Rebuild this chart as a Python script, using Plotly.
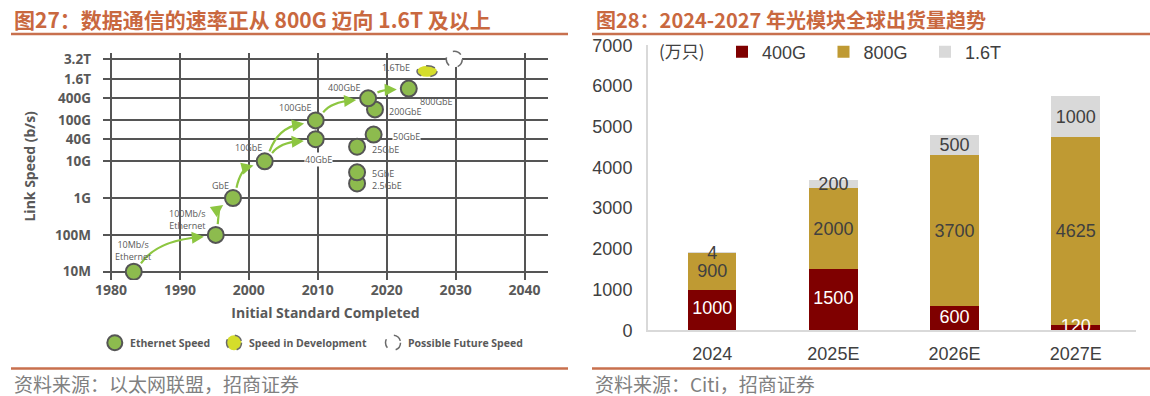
import numpy as np
import plotly.graph_objects as go

# The page body margin is removed (post_script below), so the figure fills
# the 1150x396 window exactly.
OFF = 0
W, H = 1150, 396

# ---------------- Left panel data (Ethernet speeds) ----------------
tick_labels = ["10M", "100M", "1G", "10G", "40G", "100G", "400G", "1.6T", "3.2T"]
tick_speeds = [0.01, 0.1, 1, 10, 40, 100, 400, 1600, 3200]  # Gb/s
year_ticks = [1980, 1990, 2000, 2010, 2020, 2030, 2040]

eth_names = ["10Mb/s<br>Ethernet", "100Mb/s<br>Ethernet", "GbE", "10GbE", "40GbE", "100GbE",
             "2.5GbE", "5GbE", "25GbE", "50GbE", "200GbE", "400GbE", "800GbE"]
eth_years = [1983.3, 1995.2, 1997.7, 2002.3, 2009.7, 2009.7,
             2015.7, 2015.7, 2015.7, 2018.1, 2018.3, 2017.3, 2023.2]
eth_speeds = [0.01, 0.1, 1, 10, 40, 100, 2.5, 5, 25, 50, 200, 400, 800]

dev_names = ["1.6TbE"]
dev_years = [2025.85]
dev_speeds = [1600]

future_years = [2029.8]
future_speeds = [3200]

arrow_pairs = [(0, 1), (1, 2), (2, 3), (3, 5), (3, 4), (5, 11), (11, 12)]

# ---------------- Right panel data (shipments, 万只) ----------------
categories = ["2024", "2025E", "2026E", "2027E"]
ship_400g = [1000, 1500, 600, 120]
ship_800g = [900, 2000, 3700, 4625]
ship_16t = [4, 200, 500, 1000]

# ---------------- Styling / geometry ----------------
TITLE_C = "#C9683F"
RULE_C = "#C8704E"
GRID_C = "#555555"
TXT_L = "#595959"
TXT_R = "#404040"
GREEN = "#8DBB4E"
ARROW_G = "#8DC641"
YELLOW = "#D5DD2B"
C400, C800, C16 = "#7F0000", "#BF9A33", "#D9D9D9"

# the speed axis is a log-like layout: position of each tick on the axis
tick_pos = [0, 1, 2, 3, 3.6, 4.11, 4.71, 5.24, 5.77]


def spos(s):
    return float(np.interp(np.log10(s), np.log10(tick_speeds), tick_pos))


# window-pixel geometry of the left plot area
XPX = (103.0, 548.0)
YPX = (280.0, 52.7)
XR = [1978.84, 2043.4]
YR = [-0.226, 5.95]


def to_px(x, y):
    px = XPX[0] + (x - XR[0]) / (XR[1] - XR[0]) * (XPX[1] - XPX[0])
    py = YPX[0] + (y - YR[0]) / (YR[1] - YR[0]) * (YPX[1] - YPX[0])
    return np.array([px, py])


def to_data(p):
    x = XR[0] + (p[0] - XPX[0]) / (XPX[1] - XPX[0]) * (XR[1] - XR[0])
    y = YR[0] + (p[1] - YPX[0]) / (YPX[1] - YPX[0]) * (YR[1] - YR[0])
    return x, y


def px_x(p):  # window px -> paper fraction
    return (p - OFF) / W


def px_y(p):
    return 1 - (p - OFF) / H


label_offsets = {
    "10Mb/s<br>Ethernet": (-1, -21),
    "100Mb/s<br>Ethernet": (-28.5, -15.7),
    "GbE": (-13, -13),
    "10GbE": (-16, -14),
    "100GbE": (-20, -12.6),
    "40GbE": (3, 20),
    "400GbE": (-24, -10.4),
    "200GbE": (31, 1.7),
    "50GbE": (33, 2),
    "25GbE": (28, 3),
    "5GbE": (26, 1),
    "2.5GbE": (30, 2),
    "800GbE": (28, 13),
}
label_bg = {"40GbE", "50GbE"}

fig = go.Figure()

# Ethernet speed markers
fig.add_trace(go.Scatter(
    x=eth_years, y=[spos(s) for s in eth_speeds], mode="markers",
    marker=dict(size=16, color=GREEN, line=dict(color=GRID_C, width=2)),
    xaxis="x", yaxis="y", showlegend=False, hoverinfo="skip"))

shapes = []
annotations = []

# point labels
for n, yr, sp in zip(eth_names, eth_years, eth_speeds):
    dx, dy = label_offsets[n]
    annotations.append(dict(
        x=yr, y=spos(sp), xref="x", yref="y", text=n, showarrow=False,
        xshift=dx, yshift=-dy, font=dict(family="Open Sans", size=9, color=TXT_L),
        bgcolor="white" if n in label_bg else None, borderpad=0, align="center"))

# curved arrows between generations
for i, j in arrow_pairs:
    p1 = to_px(eth_years[i], spos(eth_speeds[i]))
    p2 = to_px(eth_years[j], spos(eth_speeds[j]))
    d = p2 - p1
    a = np.array([0.35 * d[0], 0.9 * d[1]]); a /= np.linalg.norm(a)
    b = np.array([0.9 * d[0], 0.3 * d[1]]); b /= np.linalg.norm(b)
    S = p1 + 11 * a
    E = p2 - 12 * b
    e = E - S
    C = S + np.array([0.25 * e[0], 0.85 * e[1]])
    t = E - C; t /= np.linalg.norm(t)
    Ep = E - 4 * t
    sx, sy = to_data(S); cx, cy = to_data(C); ex, ey = to_data(Ep)
    shapes.append(dict(type="path", xref="x", yref="y",
                       path=f"M {sx},{sy} Q {cx},{cy} {ex},{ey}",
                       line=dict(color=ARROW_G, width=2.2), layer="above"))
    hx, hy = to_data(E)
    tx, ty = to_data(E - 7 * t)
    annotations.append(dict(x=hx, y=hy, ax=tx, ay=ty, xref="x", yref="y", axref="x", ayref="y",
                            text="", showarrow=True, arrowhead=2, arrowsize=1.1, arrowwidth=2.2,
                            arrowcolor=ARROW_G, standoff=0))

# speed in development (ellipse)
for n, yr, sp in zip(dev_names, dev_years, dev_speeds):
    shapes.append(dict(type="circle", xref="x", yref="y", xsizemode="pixel", ysizemode="pixel",
                       xanchor=yr, yanchor=spos(sp), x0=-10, x1=10, y0=2, y1=13,
                       fillcolor=YELLOW, line=dict(color="#6a6a6a", width=1.5, dash="dash")))
    annotations.append(dict(x=yr, y=spos(sp), xref="x", yref="y", text=n, showarrow=False,
                            xshift=-31, yshift=11, font=dict(family="Open Sans", size=9, color=TXT_L)))

# possible future speed (y placed through the same axis scale, on paper so it is not clipped)
for yr, sp in zip(future_years, future_speeds):
    fy = px_y(to_px(yr, spos(sp))[1])
    shapes.append(dict(type="circle", xref="x", yref="paper", xsizemode="pixel", ysizemode="pixel",
                       xanchor=yr, yanchor=fy, x0=-8, x1=8, y0=-8, y1=8,
                       fillcolor="white", line=dict(color="#6a6a6a", width=1.5, dash="dash")))

# left legend (drawn, since it needs dashed outlines)
leg_y = 342.7
leg_items = [(114.8, "Ethernet Speed", GREEN, "solid", GRID_C, 2),
             (234.0, "Speed in Development", YELLOW, "dash", "#6a6a6a", 1.5),
             (393.0, "Possible Future Speed", "white", "dash", "#6a6a6a", 1.5)]
for cxp, txt, fc, dash, lc, lw in leg_items:
    shapes.append(dict(type="circle", xref="paper", yref="paper", xsizemode="pixel", ysizemode="pixel",
                       xanchor=px_x(cxp), yanchor=px_y(leg_y), x0=-7.5, x1=7.5, y0=-7.5, y1=7.5,
                       fillcolor=fc, line=dict(color=lc, width=lw, dash=dash)))
    annotations.append(dict(x=px_x(cxp + 13), y=px_y(leg_y), xref="paper", yref="paper", text=txt,
                            showarrow=False, xanchor="left", yanchor="middle",
                            font=dict(family="Open Sans", size=10.5, color=TXT_L, weight="bold")))

# ---------------- Right panel: stacked bars ----------------
for name, vals, col, tcol, show_txt in [("400G", ship_400g, C400, "white", False),
                                        ("800G", ship_800g, C800, TXT_R, True),
                                        ("1.6T", ship_16t, C16, TXT_R, True)]:
    fig.add_trace(go.Bar(
        x=categories, y=vals, name=name, marker=dict(color=col, line=dict(width=0)),
        text=[str(v) for v in vals] if show_txt else None,
        textposition="inside", insidetextanchor="middle", textangle=0,
        textfont=dict(family="Liberation Sans, Arial", size=18, color=tcol),
        xaxis="x2", yaxis="y2", hoverinfo="skip"))

# 400G labels drawn on top so they are not hidden by the next segment
fig.add_trace(go.Scatter(
    x=categories, y=[v / 2 for v in ship_400g], mode="text",
    text=[str(v) for v in ship_400g], textposition="middle center",
    textfont=dict(family="Liberation Sans, Arial", size=18, color="white"),
    xaxis="x2", yaxis="y2", showlegend=False, hoverinfo="skip", cliponaxis=False))

# titles, rules and sources
annotations += [
    dict(x=px_x(12), y=px_y(19.5), xref="paper", yref="paper", xanchor="left", yanchor="middle",
         text="图27：数据通信的速率正从 800G 迈向 1.6T 及以上", showarrow=False,
         font=dict(family="Noto Sans CJK SC", size=21, color=TITLE_C, weight="bold")),
    dict(x=px_x(594), y=px_y(19.5), xref="paper", yref="paper", xanchor="left", yanchor="middle",
         text="图28：2024-2027 年光模块全球出货量趋势", showarrow=False,
         font=dict(family="Noto Sans CJK SC", size=20, color=TITLE_C, weight="bold")),
    dict(x=px_x(12), y=px_y(383), xref="paper", yref="paper", xanchor="left", yanchor="middle",
         text="资料来源：以太网联盟，招商证券", showarrow=False,
         font=dict(family="Noto Sans CJK SC", size=19, color="#808080")),
    dict(x=px_x(593), y=px_y(383), xref="paper", yref="paper", xanchor="left", yanchor="middle",
         text="资料来源：Citi，招商证券", showarrow=False,
         font=dict(family="Noto Sans CJK SC", size=19, color="#808080")),
    dict(x=px_x(657), y=px_y(50), xref="paper", yref="paper", xanchor="left", yanchor="middle",
         text="(万只)", showarrow=False,
         font=dict(family="Noto Sans CJK SC", size=17, color=TXT_R)),
]
for x0, x1 in [(11, 568), (592, 1150)]:
    for yy in (34, 368.5):
        shapes.append(dict(type="line", xref="paper", yref="paper",
                           x0=px_x(x0), x1=px_x(x1), y0=px_y(yy), y1=px_y(yy),
                           line=dict(color=RULE_C, width=2.5)))

fig.update_layout(
    width=W, height=H, margin=dict(l=0, r=0, t=0, b=0, autoexpand=False),
    paper_bgcolor="white", plot_bgcolor="white",
    barmode="stack", bargap=0.6,
    uniformtext=dict(minsize=18, mode="show"),
    showlegend=True,
    xaxis=dict(domain=[px_x(XPX[0]), px_x(XPX[1])], range=XR, tickvals=year_ticks, automargin=False,
               showgrid=True, gridcolor=GRID_C, gridwidth=2, zeroline=False, showline=False,
               ticks="", tickfont=dict(family="Open Sans", size=14, color=TXT_L, weight="bold"),
               title=dict(text="Initial Standard Completed", standoff=10,
                          font=dict(family="Open Sans", size=14, color=TXT_L, weight="bold"))),
    yaxis=dict(domain=[px_y(YPX[0]), px_y(YPX[1])], range=YR, tickvals=tick_pos, ticktext=tick_labels,
               automargin=False,
               showgrid=True, gridcolor=GRID_C, gridwidth=2, zeroline=False, showline=False,
               ticks="", ticklabelstandoff=11,
               tickfont=dict(family="Open Sans", size=13.5, color=TXT_L, weight="bold"),
               title=dict(text="Link Speed (b/s)", standoff=16,
                          font=dict(family="Open Sans", size=14, color=TXT_L, weight="bold"))),
    xaxis2=dict(domain=[px_x(648), px_x(1136.3)], anchor="y2", type="category", range=[-0.53, 3.5],
                automargin=False,
                showline=True, linecolor="#D9D9D9", linewidth=2, showgrid=False, zeroline=False,
                ticks="", ticklabelstandoff=6,
                tickfont=dict(family="Liberation Sans, Arial", size=18, color=TXT_R)),
    yaxis2=dict(domain=[px_y(330.3), px_y(45.3)], anchor="x2", range=[0, 7000], dtick=1000,
                automargin=False,
                showline=True, linecolor="#D9D9D9", linewidth=2, showgrid=False, zeroline=False,
                ticks="", ticklabelstandoff=10,
                tickfont=dict(family="Liberation Sans, Arial", size=18, color=TXT_R)),
    legend=dict(orientation="h", x=px_x(722), y=px_y(52), xanchor="left", yanchor="middle",
                traceorder="normal", entrywidth=56.5, entrywidthmode="pixels",
                font=dict(family="Liberation Sans, Arial", size=18, color=TXT_R),
                bgcolor="rgba(0,0,0,0)"),
    shapes=shapes, annotations=annotations,
)

fig.write_html("out.html", config={"displayModeBar": False},
               post_script="document.body.style.margin='0';document.body.style.overflow='hidden';")
